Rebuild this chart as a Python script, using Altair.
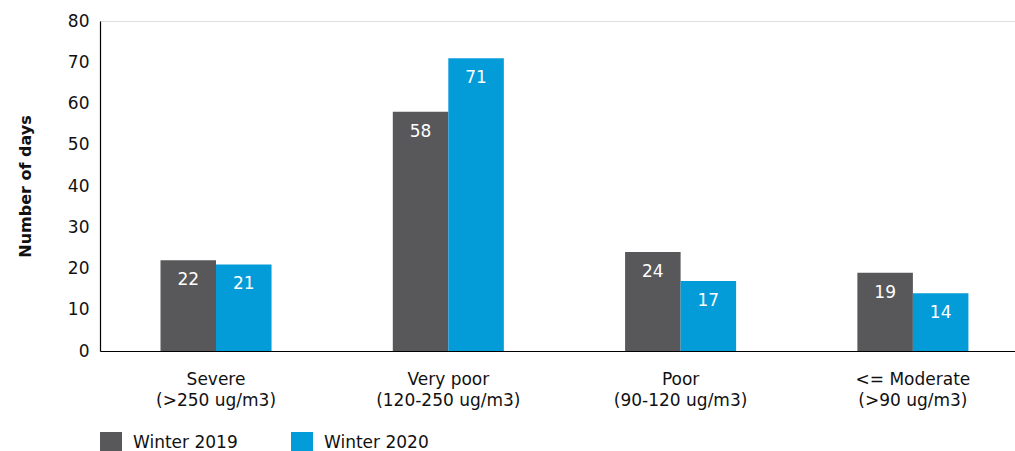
import altair as alt
import pandas as pd

categories = ["Severe|(>250 ug/m3)", "Very poor|(120-250 ug/m3)", "Poor|(90-120 ug/m3)", "<= Moderate|(>90 ug/m3)"]
winter_2019 = [22, 58, 24, 19]
winter_2020 = [21, 71, 17, 14]
series = ["Winter 2019", "Winter 2020"]
colors = ["#58585A", "#039BD8"]

rows = []
for c, a, b in zip(categories, winter_2019, winter_2020):
    rows.append({"cat": c, "series": series[0], "value": a})
    rows.append({"cat": c, "series": series[1], "value": b})
df = pd.DataFrame(rows)

FONT = "DejaVu Sans"

x_enc = alt.X(
    "cat:N",
    sort=categories,
    scale=alt.Scale(paddingInner=0.522, paddingOuter=0.2305, align=0.565),
    axis=alt.Axis(
        title=None,
        labelExpr="split(datum.label, '|')",
        labelAngle=0,
        ticks=False,
        labelPadding=20,
        labelFontSize=17,
        labelLineHeight=21,
        labelColor="#111111",
        domainColor="#000000",
        domainWidth=1.2,
    ),
)

base = alt.Chart(df).encode(
    x=x_enc,
    xOffset=alt.XOffset("series:N", sort=series),
)

bars = base.mark_bar().encode(
    y=alt.Y(
        "value:Q",
        scale=alt.Scale(domain=[0, 80]),
        axis=alt.Axis(
            title="Number of days",
            values=[0, 10, 20, 30, 40, 50, 60, 70, 80],
            grid=False,
            ticks=False,
            labelPadding=11,
            labelFontSize=17,
            labelColor="#111111",
            titleFontSize=16,
            titleFontWeight="bold",
            titleColor="#111111",
            titlePadding=34,
            domainColor="#000000",
            domainWidth=1.2,
        ),
    ),
    color=alt.Color(
        "series:N",
        sort=series,
        scale=alt.Scale(domain=series, range=colors),
        legend=alt.Legend(
            title=None,
            orient="none",
            legendX=0,
            legendY=411,
            direction="horizontal",
            symbolType="square",
            symbolSize=484,
            symbolStrokeWidth=0,
            labelFontSize=17,
            labelColor="#111111",
            labelOffset=11,
            columnPadding=53,
        ),
    ),
)

labels = base.mark_text(
    color="white", fontSize=17, baseline="alphabetic", dy=25, font=FONT
).encode(
    y="value:Q",
    text="value:Q",
)

chart = (
    alt.layer(bars, labels)
    .properties(
        width=915,
        height=330,
        autosize=alt.AutoSizeParams(type="none"),
        padding={"left": 100, "top": 21, "right": 0, "bottom": 100},
    )
    .configure_view(stroke=None)
    .configure(font=FONT, background="white")
)

chart.save("out.html", embed_options={"renderer": "svg", "actions": False})
